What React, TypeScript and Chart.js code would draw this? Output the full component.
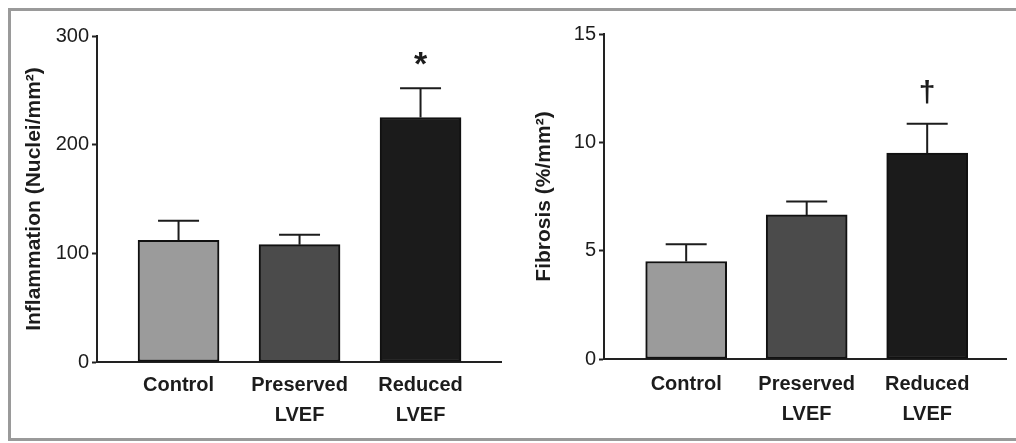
import React, { useEffect, useRef } from "react";
import { Chart, registerables } from "chart.js";

Chart.register(...registerables);

// ---- data ----
const categories: string[][] = [["Control"], ["Preserved", "LVEF"], ["Reduced", "LVEF"]];
const barColors = ["#9b9b9b", "#4b4b4b", "#1b1b1b"];

const inflammationMean = [112, 108, 225];
const inflammationSem = [18, 9, 27];
const inflammationMarks = ["", "", "*"];
const inflammationTicks = [0, 100, 200, 300];
const inflammationTitle = "Inflammation (Nuclei/mm²)";

const fibrosisMean = [4.5, 6.65, 9.5];
const fibrosisSem = [0.8, 0.62, 1.36];
const fibrosisMarks = ["", "", "†"];
const fibrosisTicks = [0, 5, 10, 15];
const fibrosisTitle = "Fibrosis (%/mm²)";

const FONT = "'Liberation Sans', Arial, Helvetica, sans-serif";
const INK = "#1c1c1c";

type PanelProps = {
  left: number;
  width: number;
  height: number;
  means: number[];
  sems: number[];
  marks: string[];
  yTicks: number[];
  title: string;
  yAxisWidth: number;
  padTop: number;
  padRight: number;
  xAxisHeight: number;
  titlePad: number;
  labelPad: number;
  xMin: number;
  xMax: number;
};

function Panel(p: PanelProps) {
  const ref = useRef<HTMLCanvasElement | null>(null);

  useEffect(() => {
    if (!ref.current) return;
    const errorPlugin = {
      id: "errorBars",
      afterDatasetsDraw(chart: any) {
        const ctx = chart.ctx;
        const xs = chart.scales.x;
        const ys = chart.scales.y;
        ctx.save();
        ctx.strokeStyle = INK;
        ctx.lineWidth = 2;
        p.means.forEach((m, i) => {
          const x = xs.getPixelForValue(i);
          const yb = ys.getPixelForValue(m);
          const yt = ys.getPixelForValue(m + p.sems[i]);
          ctx.beginPath();
          ctx.moveTo(x, yb);
          ctx.lineTo(x, yt);
          ctx.moveTo(x - 20.5, yt);
          ctx.lineTo(x + 20.5, yt);
          ctx.stroke();
          const mark = p.marks[i];
          if (mark) {
            ctx.fillStyle = INK;
            ctx.font = mark === "*" ? `bold 34px ${FONT}` : `bold 30px ${FONT}`;
            ctx.textAlign = "center";
            ctx.textBaseline = "alphabetic";
            const mt = ctx.measureText(mark);
            const asc = mt.actualBoundingBoxAscent || 0;
            const desc = mt.actualBoundingBoxDescent || 0;
            const cy = yt - (mark === "*" ? 30 : 32);
            ctx.fillText(mark, x, cy + (asc - desc) / 2);
          }
        });
        ctx.restore();
      },
    };

    const chart = new Chart(ref.current, {
      type: "bar",
      data: {
        datasets: [
          {
            data: p.means.map((v, i) => ({ x: i, y: v })),
            backgroundColor: barColors,
            borderColor: "#111111",
            borderWidth: 2,
            borderSkipped: false,
            barThickness: 81,
          } as any,
        ],
      },
      options: {
        responsive: false,
        animation: false,
        devicePixelRatio: 1,
        layout: { padding: { left: 0, top: p.padTop, right: p.padRight, bottom: 0 } },
        plugins: { legend: { display: false }, tooltip: { enabled: false } },
        scales: {
          x: {
            type: "linear",
            min: p.xMin,
            max: p.xMax,
            bounds: "data",
            offset: false,
            grid: { display: false, drawTicks: false, offset: false },
            border: { display: true, color: "#222222", width: 2 },
            afterBuildTicks: (scale: any) => {
              scale.ticks = categories.map((_, i) => ({ value: i }));
            },
            afterFit: (scale: any) => {
              scale.height = p.xAxisHeight;
            },
            ticks: {
              autoSkip: false,
              maxRotation: 0,
              minRotation: 0,
              padding: p.labelPad,
              color: INK,
              font: { family: FONT, size: 20, weight: "bold", lineHeight: 1.5 },
              callback: (v: any) => categories[Math.round(Number(v))] ?? "",
            },
          } as any,
          y: {
            type: "linear",
            min: p.yTicks[0],
            max: p.yTicks[p.yTicks.length - 1],
            grid: {
              drawOnChartArea: false,
              drawTicks: true,
              tickLength: 5,
              tickWidth: 2,
              tickColor: "#222222",
            },
            border: { display: true, color: "#222222", width: 2 },
            afterBuildTicks: (scale: any) => {
              scale.ticks = p.yTicks.map((v) => ({ value: v }));
            },
            afterFit: (scale: any) => {
              scale.width = p.yAxisWidth;
            },
            ticks: {
              padding: 3,
              color: INK,
              font: { family: FONT, size: 20 },
            },
            title: {
              display: true,
              text: p.title,
              color: INK,
              font: { family: FONT, size: 21, weight: "bold" },
              padding: { top: p.titlePad, bottom: 0 },
            },
          },
        },
      },
      plugins: [errorPlugin],
    });
    return () => chart.destroy();
  }, []);

  return (
    <canvas
      ref={ref}
      width={p.width}
      height={p.height}
      style={{ position: "absolute", left: p.left, top: 0, width: p.width, height: p.height, display: "block" }}
    />
  );
}

export default function App() {
  return (
    <div style={{ position: "fixed", left: 0, top: 0, width: 1016, height: 443, background: "#ffffff", overflow: "hidden" }}>
      <div
        style={{
          position: "absolute",
          left: 8,
          top: 8,
          width: 1008,
          height: 433,
          boxSizing: "border-box",
          borderTop: "3px solid #9a9a9a",
          borderLeft: "3px solid #9a9a9a",
          borderBottom: "3px solid #9a9a9a",
        }}
      />
      <Panel
        left={0}
        width={508}
        height={443}
        means={inflammationMean}
        sems={inflammationSem}
        marks={inflammationMarks}
        yTicks={inflammationTicks}
        title={inflammationTitle}
        yAxisWidth={97}
        padTop={36}
        padRight={7}
        xAxisHeight={81}
        titlePad={22}
        labelPad={8}
        xMin={-0.674}
        xMax={2.665}
      />
      <Panel
        left={508}
        width={508}
        height={443}
        means={fibrosisMean}
        sems={fibrosisSem}
        marks={fibrosisMarks}
        yTicks={fibrosisTicks}
        title={fibrosisTitle}
        yAxisWidth={96}
        padTop={34}
        padRight={10}
        xAxisHeight={84}
        titlePad={24}
        labelPad={10}
        xMin={-0.682}
        xMax={2.654}
      />
    </div>
  );
}
